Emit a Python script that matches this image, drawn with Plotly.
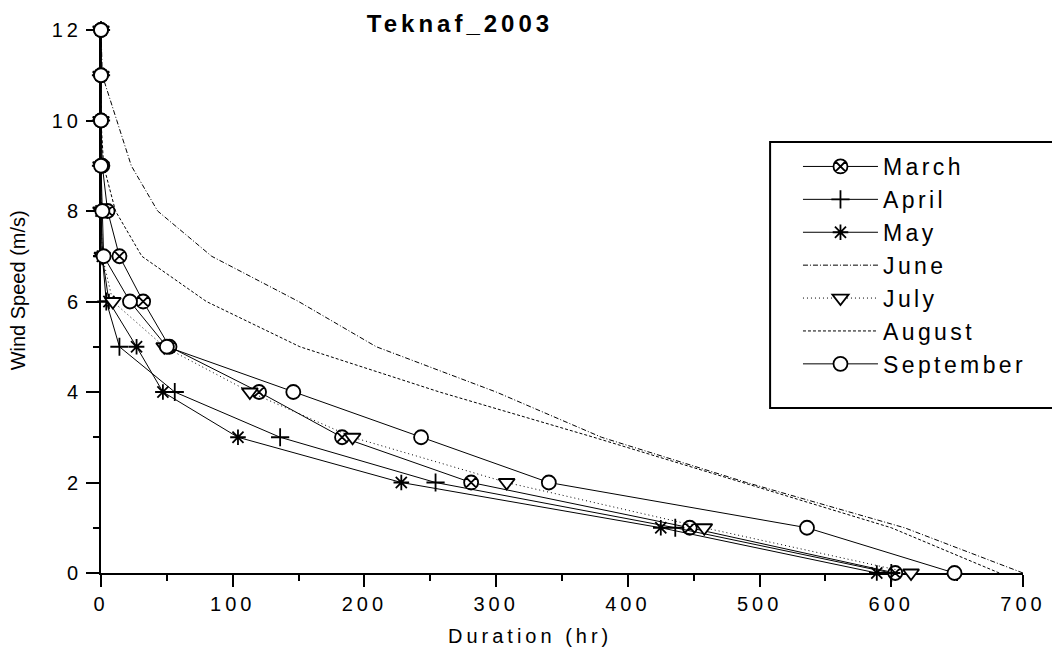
import plotly.graph_objects as go

# Wind speed classes (m/s) and cumulative duration (hr) at or above each class
wind_speed = [0, 1, 2, 3, 4, 5, 6, 7, 8, 9, 10, 11, 12]

march = [603, 447, 281, 183, 120, 52, 32, 14, 5, 1, 0, 0, 0]
april = [600, 436, 254, 136, 56, 14, 4, 1, 0, 0, 0, 0, 0]
may = [589, 425, 228, 104, 47, 27, 6, 1, 0, 0, 0, 0, 0]
june = [700, 610, 490, 380, 300, 209, 150, 84, 43, 23, 12, 1, 0]
july = [615, 458, 308, 191, 113, 48, 9, 1, 0, 0, 0, 0, 0]
august = [682, 600, 487, 374, 257, 151, 80, 31, 11, 2, 0, 0, 0]
september = [648, 536, 340, 243, 146, 50, 22, 2, 1, 0, 0, 0, 0]

x_ticks = [0, 100, 200, 300, 400, 500, 600, 700]
y_ticks = [0, 2, 4, 6, 8, 10, 12]

FONT = "Liberation Sans, Arial, sans-serif"

series = [
    ("March", march, "solid", "circle-x", 14),
    ("April", april, "solid", "cross-thin-open", 13),
    ("May", may, "solid", "asterisk-open", 13),
    ("June", june, "5px,2px,1px,2px", None, 0),
    ("July", july, "1px,3px", "triangle-down", 14),
    ("August", august, "3px,2px", None, 0),
    ("September", september, "solid", "circle", 14),
]

fig = go.Figure()
for name, values, dash, symbol, size in series:
    if symbol is None:
        fig.add_trace(go.Scatter(
            x=values, y=wind_speed, name=name, mode="lines",
            line=dict(color="black", width=1, dash=dash),
            cliponaxis=False,
        ))
    else:
        open_sym = symbol.endswith("-open")
        fig.add_trace(go.Scatter(
            x=values, y=wind_speed, name=name, mode="lines+markers",
            line=dict(color="black", width=1, dash=dash),
            marker=dict(
                symbol=symbol, size=size,
                color="black" if open_sym else "white",
                line=dict(color="black", width=1.8),
            ),
            cliponaxis=False,
        ))

# Plot area in page pixels
PX0, PX1, PY0, PY1 = 101, 1027, 30, 573


def px_x(p):
    return (p - PX0) / (PX1 - PX0)


def px_y(p):
    return (PY1 - p) / (PY1 - PY0)


# Legend frame (runs off the right edge of the page)
fig.add_shape(
    type="rect", xref="paper", yref="paper",
    x0=px_x(773), x1=px_x(1070), y0=px_y(408), y1=px_y(142),
    line=dict(color="black", width=2), fillcolor="rgba(0,0,0,0)",
)

fig.update_layout(
    width=1052, height=656,
    margin=dict(l=PX0, r=1052 - PX1, t=PY0, b=656 - PY1),
    paper_bgcolor="white", plot_bgcolor="white",
    font=dict(family=FONT, color="black", size=20),
    title=dict(
        text="<b>Teknaf_2003</b>", font=dict(family=FONT, size=24, color="black"),
        x=460 / 1052, xanchor="center", xref="container",
        y=1 - 24 / 656, yanchor="middle", yref="container",
    ),
    showlegend=True,
    legend=dict(
        x=px_x(801), xanchor="left", y=px_y(145), yanchor="top",
        bgcolor="rgba(0,0,0,0)", borderwidth=0,
        font=dict(family=FONT, size=23, color="black"),
        itemwidth=75, tracegroupgap=0,
    ),
    xaxis=dict(
        range=[0, 700], tickvals=x_ticks, ticktext=[str(v) for v in x_ticks],
        showgrid=False, zeroline=False,
        showline=True, linecolor="black", linewidth=2,
        ticks="outside", ticklen=12, tickwidth=2, tickcolor="black",
        minor=dict(dtick=50, ticks="outside", ticklen=6, tickwidth=2, tickcolor="black", showgrid=False),
        tickfont=dict(family=FONT, size=20), layer="below traces",
    ),
    yaxis=dict(
        range=[0, 12], tickvals=y_ticks, ticktext=[str(v) for v in y_ticks],
        showgrid=False, zeroline=False,
        showline=True, linecolor="black", linewidth=2,
        ticks="outside", ticklen=13, tickwidth=2, tickcolor="black",
        minor=dict(dtick=1, ticks="outside", ticklen=6, tickwidth=2, tickcolor="black", showgrid=False),
        tickfont=dict(family=FONT, size=20), layer="below traces",
    ),
    annotations=[
        dict(text="Duration (hr)", xref="paper", yref="paper",
             x=px_x(532), y=px_y(636), xanchor="center", yanchor="middle",
             showarrow=False, font=dict(family=FONT, size=20)),
        dict(text="Wind Speed (m/s)", xref="paper", yref="paper",
             x=px_x(18), y=px_y(290), xanchor="center", yanchor="middle",
             textangle=-90, showarrow=False, font=dict(family=FONT, size=20)),
    ],
)

# Widen the character spacing of tick labels, legend, title and x-axis title;
# the wider legend text must not be cut by the legend's scroll clip.
spacing_css = """
var st = document.createElement('style');
st.textContent = [
  '.xtick text, .ytick text { letter-spacing: 4px; }',
  '.legendtext { letter-spacing: 3.4px; }',
  '.legend .scrollbox { clip-path: none !important; }',
  '.gtitle { letter-spacing: 4px; }',
  'g.annotation[data-index="0"] text { letter-spacing: 4px; }'
].join('\\n');
document.head.appendChild(st);
"""

fig.write_html("out.html", post_script=spacing_css)
